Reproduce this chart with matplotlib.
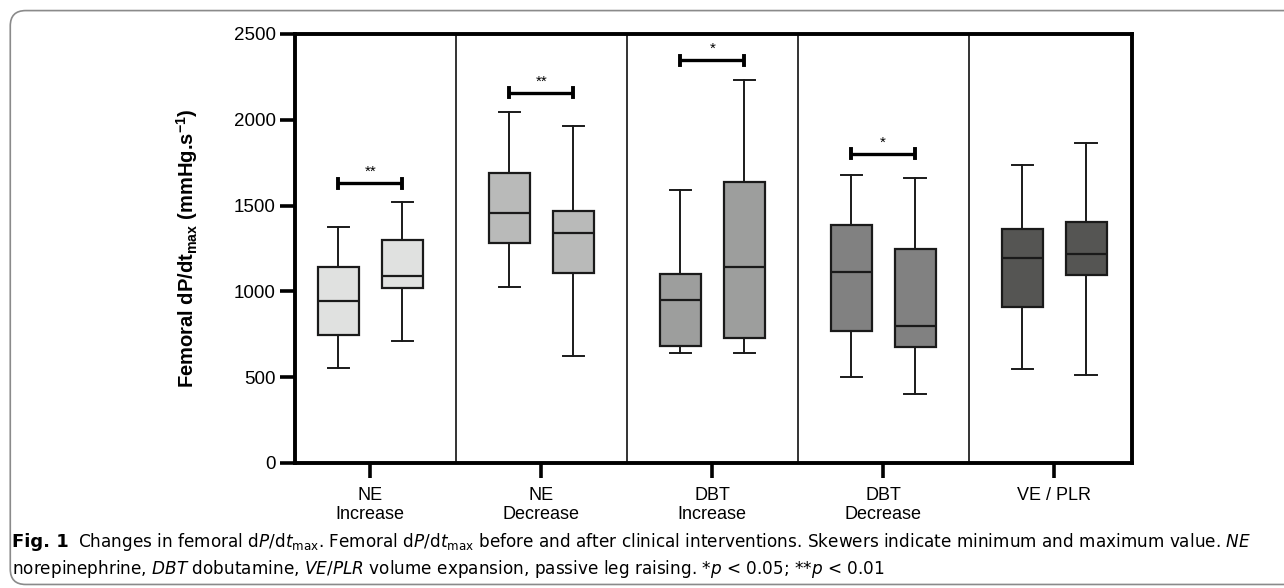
import matplotlib.pyplot as plt
from matplotlib.patches import FancyBboxPatch

plt.rcParams['font.family'] = ['Liberation Sans', 'DejaVu Sans']
plt.rcParams['mathtext.fontset'] = 'custom'
plt.rcParams['mathtext.rm'] = 'DejaVu Sans'
plt.rcParams['mathtext.it'] = 'DejaVu Sans:italic'
plt.rcParams['mathtext.bf'] = 'Liberation Sans:bold'

groups = ['NE\nIncrease', 'NE\nDecrease', 'DBT\nIncrease', 'DBT\nDecrease', 'VE / PLR']
colors = ['#e0e1e0', '#b9bab9', '#9d9e9d', '#818181', '#555553']

# before / after for each group: min, q1, median, q3, max
before_min = [555, 1027, 643, 503, 546]
before_q1 = [748, 1282, 684, 769, 911]
before_med = [942, 1455, 950, 1113, 1196]
before_q3 = [1144, 1690, 1103, 1389, 1365]
before_max = [1377, 2045, 1591, 1680, 1738]

after_min = [713, 624, 639, 402, 513]
after_q1 = [1018, 1107, 730, 678, 1094]
after_med = [1092, 1339, 1140, 796, 1216]
after_q3 = [1301, 1467, 1639, 1245, 1402]
after_max = [1523, 1964, 2232, 1661, 1866]

# significance brackets: group index, height, label
sig_group = [0, 1, 2, 3]
sig_y = [1630, 2158, 2348, 1802]
sig_txt = ['**', '**', '*', '*']

fig = plt.figure(figsize=(12.84, 5.88), dpi=100)
ax = fig.add_axes([0.2298, 0.2126, 0.6518, 0.7296])

off = 0.187
stats, pos, cols = [], [], []
for i in range(5):
    stats.append(dict(whislo=before_min[i], q1=before_q1[i], med=before_med[i],
                      q3=before_q3[i], whishi=before_max[i], fliers=[]))
    stats.append(dict(whislo=after_min[i], q1=after_q1[i], med=after_med[i],
                      q3=after_q3[i], whishi=after_max[i], fliers=[]))
    pos += [i - off, i + off]
    cols += [colors[i], colors[i]]

bp = ax.bxp(stats, positions=pos, widths=0.24, capwidths=0.125, patch_artist=True,
            showfliers=False,
            boxprops=dict(edgecolor='#1a1a1a', linewidth=1.6),
            medianprops=dict(color='#1a1a1a', linewidth=1.6),
            whiskerprops=dict(color='#1a1a1a', linewidth=1.4),
            capprops=dict(color='#1a1a1a', linewidth=1.4))
for patch, c in zip(bp['boxes'], cols):
    patch.set_facecolor(c)

for x in [0.5, 1.5, 2.5, 3.5]:
    ax.axvline(x, color='#333333', linewidth=1.4, zorder=1)

for g, y, t in zip(sig_group, sig_y, sig_txt):
    ax.plot([g - off, g + off], [y, y], color='black', linewidth=2.4, solid_capstyle='butt')
    ax.plot([g - off, g - off], [y - 26, y + 26], color='black', linewidth=2.8)
    ax.plot([g + off, g + off], [y - 26, y + 26], color='black', linewidth=2.8)
    ax.text(g, y + 25, t, ha='center', va='bottom', fontsize=11)

ax.set_xlim(-0.44, 4.455)
ax.set_ylim(0, 2500)
ax.set_yticks([0, 500, 1000, 1500, 2000, 2500])
ax.set_xticks(range(5))
ax.set_xticklabels(groups, fontsize=13, linespacing=1.2)
ax.tick_params(axis='y', labelsize=13.5, width=2.6, length=11, direction='out', pad=3)
ax.tick_params(axis='x', width=2.6, length=11, direction='out', pad=6)
for s in ax.spines.values():
    s.set_linewidth(2.8)
ax.set_ylabel(r'Femoral dP/dt$_{\mathbf{max}}$ (mmHg.s$^{\mathbf{-1}}$)',
              fontsize=14.5, fontweight='bold', labelpad=24)

border = FancyBboxPatch((0.008, 0.006), 1.2, 0.976, boxstyle='round,pad=0,rounding_size=0.012',
                        transform=fig.transFigure, fill=False, edgecolor='#8a8a8a',
                        linewidth=1.2, mutation_aspect=1284 / 588)
fig.patches.append(border)

fig.text(0.009, 0.069, 'Fig. 1', fontsize=13, fontweight='bold', family='DejaVu Sans', va='baseline')
fig.text(0.061, 0.069,
         r'Changes in femoral d$\it{P}$/d$\it{t}_{\rm max}$. Femoral d$\it{P}$/d$\it{t}_{\rm max}$ before and after '
         r'clinical interventions. Skewers indicate minimum and maximum value. $\it{NE}$',
         fontsize=12.2, family='DejaVu Sans', va='baseline')
fig.text(0.009, 0.023,
         r'norepinephrine, $\it{DBT}$ dobutamine, $\it{VE/PLR}$ volume expansion, passive leg raising. '
         r'*$\it{p}$ < 0.05; **$\it{p}$ < 0.01',
         fontsize=12.2, family='DejaVu Sans', va='baseline')

fig.savefig('out.png', dpi=100)
